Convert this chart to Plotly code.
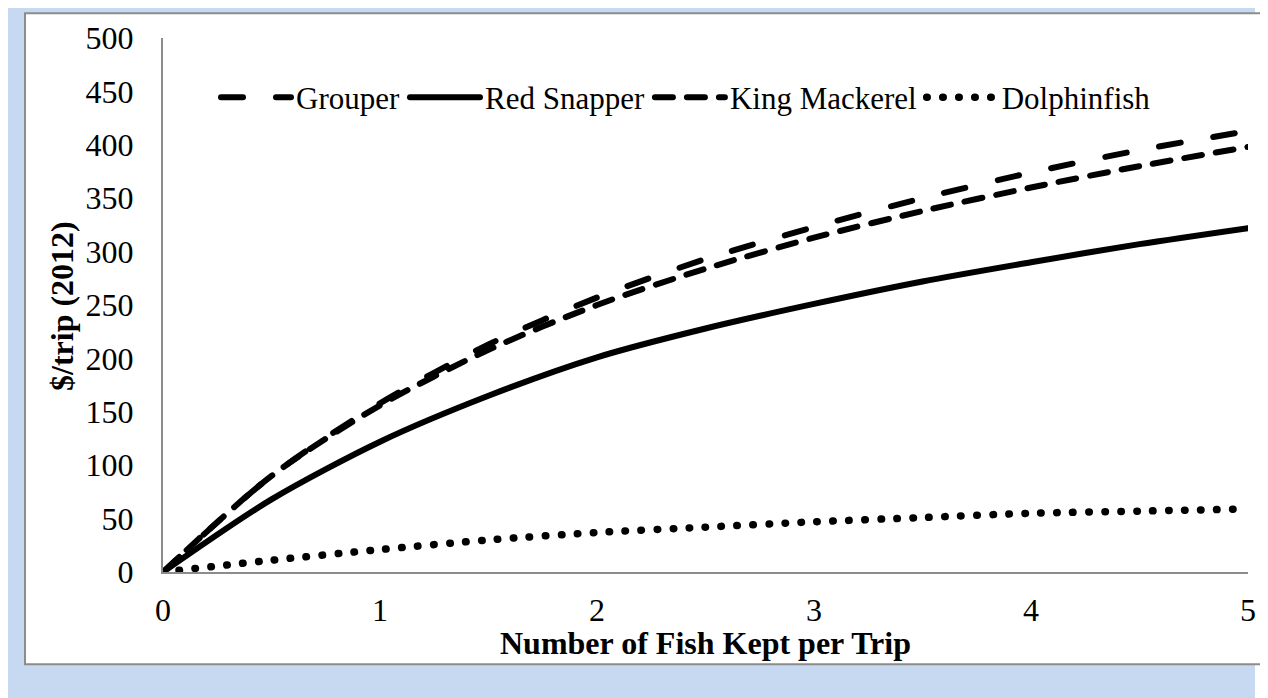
import plotly.graph_objects as go

# values
fish_kept = [0, 0.5, 1, 1.5, 2, 2.5, 3, 3.5, 4, 4.5, 5]
grouper = [0, 90, 158, 213, 257, 293, 323, 350, 374, 395, 413]
red_snapper = [0, 68, 122, 165, 201, 228, 251, 272, 290, 307, 322]
king_mackerel = [0, 90, 156, 208, 250, 284, 313, 338, 360, 380, 398]
dolphinfish = [0, 11, 21, 30, 37, 42, 47, 51, 55, 57, 59]

y_ticks = [0, 50, 100, 150, 200, 250, 300, 350, 400, 450, 500]
x_ticks = [0, 1, 2, 3, 4, 5]

FONT = "Liberation Serif, Times New Roman, serif"

series = [
    ("Grouper", grouper, "22px,33px", 6),
    ("Red Snapper", red_snapper, "solid", 6),
    ("King Mackerel", king_mackerel, "18px,14px", 6),
    ("Dolphinfish", dolphinfish, "0.5px,15.5px", 7.5),
]

fig = go.Figure()
for name, values, dash, width in series:
    fig.add_trace(
        go.Scatter(
            x=fish_kept,
            y=values,
            name=name,
            mode="lines",
            line=dict(color="black", width=width, dash=dash, shape="spline", smoothing=0.8),
        )
    )


# plot area in page pixels: x 163..1248, y 34..572 (page has an 8px body margin)
def px_x(p):
    return (p - 163) / 1085


def px_y(p):
    return (572 - p) / 538


fig.add_shape(
    type="rect", xref="paper", yref="paper",
    x0=px_x(7), x1=px_x(1255), y0=px_y(700), y1=px_y(0),
    fillcolor="#c6d9f0", line=dict(width=0), layer="below",
)
fig.add_shape(
    type="rect", xref="paper", yref="paper",
    x0=px_x(25), x1=px_x(1290), y0=px_y(665), y1=px_y(9),
    fillcolor="white", line=dict(color="#8c8c8c", width=2), layer="below",
)

fig.add_annotation(
    text="<b>Number of Fish Kept per Trip</b>", xref="paper", yref="paper",
    x=px_x(705), y=px_y(644), xanchor="center", yanchor="middle", showarrow=False,
    font=dict(family=FONT, size=32, color="black"),
)
fig.add_annotation(
    text="<b>$/trip (2012)</b>", xref="paper", yref="paper",
    x=px_x(62), y=px_y(304), xanchor="center", yanchor="middle", showarrow=False,
    textangle=-90, font=dict(family=FONT, size=32, color="black"),
)

fig.update_layout(
    width=1260,
    height=690,
    margin=dict(l=155, r=20, t=26, b=126),
    paper_bgcolor="white",
    plot_bgcolor="rgba(0,0,0,0)",
    font=dict(family=FONT, size=32, color="black"),
    showlegend=True,
    legend=dict(
        orientation="h",
        x=px_x(216), y=px_y(94), xanchor="left", yanchor="middle",
        bgcolor="rgba(0,0,0,0)",
        font=dict(family=FONT, size=31, color="black"),
        itemwidth=70,
    ),
    xaxis=dict(
        range=[0, 5], tickvals=x_ticks, showgrid=False, zeroline=False,
        showline=True, linecolor="#8c8c8c", linewidth=2,
        ticks="outside", ticklen=9, tickcolor="rgba(0,0,0,0)",
        tickfont=dict(family=FONT, size=32),
    ),
    yaxis=dict(
        range=[0, 500], tickvals=y_ticks, showgrid=False, zeroline=False,
        showline=True, linecolor="#8c8c8c", linewidth=2,
        ticks="outside", ticklen=21, tickcolor="rgba(0,0,0,0)",
        tickfont=dict(family=FONT, size=32),
    ),
)

post_script = """
var gd = document.getElementById('{plot_id}');
function roundCaps() {
  gd.querySelectorAll('path.js-line').forEach(function (p) {
    p.style.strokeLinecap = 'round';
  });
}
roundCaps();
setTimeout(roundCaps, 50);
if (gd.on) { gd.on('plotly_afterplot', roundCaps); }
"""

fig.write_html("out.html", post_script=post_script)
